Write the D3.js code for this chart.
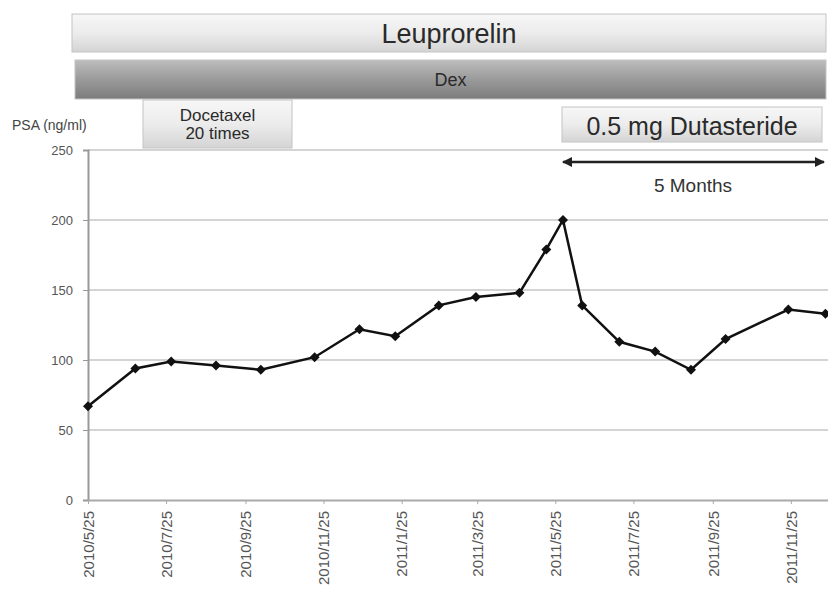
<!DOCTYPE html>
<html>
<head>
<meta charset="utf-8">
<script src="https://cdn.jsdelivr.net/npm/d3@7"></script>
<style>
  body { margin: 0; background: #fff; }
  svg { font-family: "Liberation Sans", Arial, sans-serif; }
</style>
</head>
<body>
<div id="container"></div>
<script>
/* DATA */
const dates = ["2010-05-25","2010-07-01","2010-07-29","2010-09-02","2010-10-07","2010-11-18",
  "2010-12-23","2011-01-20","2011-02-23","2011-03-24","2011-04-27","2011-05-18","2011-05-31",
  "2011-06-15","2011-07-14","2011-08-11","2011-09-08","2011-10-05","2011-11-23","2011-12-22"];
const psa = [67, 94, 99, 96, 93, 102, 122, 117, 139, 145, 148, 179, 200, 139, 113, 106, 93, 115, 136, 133];
const tickDates = ["2010-05-25","2010-07-25","2010-09-25","2010-11-25","2011-01-25","2011-03-25",
  "2011-05-25","2011-07-25","2011-09-25","2011-11-25"];
const yTicks = [0, 50, 100, 150, 200, 250];

const width = 828, height = 590;
const parse = d3.timeParse("%Y-%m-%d");
const fmt = d => `${d.getFullYear()}/${d.getMonth() + 1}/${d.getDate()}`;
const data = dates.map((d, i) => ({date: parse(d), value: psa[i]}));

const svg = d3.select("#container").append("svg")
  .attr("width", width).attr("height", height);

const defs = svg.append("defs");
function grad(id, stops) {
  const g = defs.append("linearGradient").attr("id", id)
    .attr("x1", 0).attr("y1", 0).attr("x2", 0).attr("y2", 1);
  stops.forEach(s => g.append("stop").attr("offset", s[0]).attr("stop-color", s[1]));
}
grad("light", [[0, "#f7f7f7"], [0.5, "#ececec"], [1, "#d4d4d4"]]);
grad("dark", [[0, "#bdbdbd"], [0.5, "#9a9a9a"], [1, "#7c7c7c"]]);

/* SCALES */
const x = d3.scaleTime()
  .domain([parse("2010-05-25"), parse("2011-12-24")])
  .range([88, 828]);
const y = d3.scaleLinear().domain([0, 250]).range([500, 150]);

/* TREATMENT BARS */
const boxes = [
  {x0: 72, x1: 826, y0: 14, y1: 52, fill: "url(#light)", lines: ["Leuprorelin"], size: 27, cy: 34},
  {x0: 75, x1: 826, y0: 60, y1: 99, fill: "url(#dark)", lines: ["Dex"], size: 18, cy: 80},
  {x0: 143, x1: 292, y0: 100, y1: 148, fill: "url(#light)", lines: ["Docetaxel", "20 times"], size: 17, cy: 124},
  {x0: 562, x1: 822, y0: 107, y1: 142, fill: "url(#light)", lines: ["0.5 mg Dutasteride"], size: 25, cy: 126}
];
boxes.forEach(b => {
  svg.append("rect")
    .attr("x", b.x0).attr("y", b.y0)
    .attr("width", b.x1 - b.x0).attr("height", b.y1 - b.y0)
    .attr("fill", b.fill).attr("stroke", "#c4c4c4");
  const n = b.lines.length;
  b.lines.forEach((t, i) => {
    svg.append("text")
      .attr("x", (b.x0 + b.x1) / 2)
      .attr("y", b.cy + (i - (n - 1) / 2) * (b.size * 1.05))
      .attr("dy", "0.35em")
      .attr("text-anchor", "middle")
      .attr("font-size", b.size)
      .attr("fill", "#2a2a2a")
      .text(t);
  });
});

svg.append("text")
  .attr("x", 12).attr("y", 130)
  .attr("font-size", 14).attr("fill", "#444")
  .text("PSA (ng/ml)");

/* GRID */
svg.append("g").selectAll("line")
  .data(yTicks.filter(v => v > 0))
  .join("line")
  .attr("x1", 88).attr("x2", 828)
  .attr("y1", d => y(d)).attr("y2", d => y(d))
  .attr("stroke", "#d4d4d4").attr("stroke-width", 2);

/* AXES */
const yAxis = svg.append("g")
  .attr("transform", "translate(88,0)")
  .call(d3.axisLeft(y).tickValues(yTicks).tickSize(5).tickPadding(10));
yAxis.select(".domain").attr("stroke", "#999").attr("stroke-width", 2);
yAxis.selectAll(".tick line").attr("stroke", "#999");
yAxis.selectAll("text").attr("font-size", 13).attr("fill", "#555")
  .attr("font-family", "Liberation Sans, Arial, sans-serif");

const xAxis = svg.append("g")
  .attr("transform", "translate(0,500)")
  .call(d3.axisBottom(x).tickValues(tickDates.map(parse)).tickFormat(fmt).tickSize(4).tickSizeOuter(0));
xAxis.select(".domain").attr("stroke", "#aaa").attr("stroke-width", 2);
xAxis.selectAll(".tick line").attr("stroke", "#aaa");
xAxis.selectAll("text")
  .attr("font-size", 15).attr("fill", "#555")
  .attr("font-family", "Liberation Sans, Arial, sans-serif")
  .attr("transform", "rotate(-90)")
  .attr("text-anchor", "end")
  .attr("x", -11).attr("y", 0).attr("dy", "0.35em");

/* LINE */
svg.append("path")
  .datum(data)
  .attr("fill", "none")
  .attr("stroke", "#111")
  .attr("stroke-width", 2.5)
  .attr("d", d3.line().x(d => x(d.date)).y(d => y(d.value)));

svg.append("g").selectAll("path")
  .data(data)
  .join("path")
  .attr("transform", d => `translate(${x(d.date)},${y(d.value)}) rotate(45)`)
  .attr("d", d3.symbol(d3.symbolSquare, 50))
  .attr("fill", "#111");

/* 5 MONTHS ARROW */
defs.append("marker").attr("id", "arr")
  .attr("viewBox", "0 0 10 10").attr("refX", 9).attr("refY", 5)
  .attr("markerWidth", 4).attr("markerHeight", 4).attr("orient", "auto-start-reverse")
  .append("path").attr("d", "M0,0L10,5L0,10Z").attr("fill", "#222");
svg.append("line")
  .attr("x1", x(parse("2011-05-31"))).attr("x2", 824)
  .attr("y1", 162).attr("y2", 162)
  .attr("stroke", "#222").attr("stroke-width", 2.5)
  .attr("marker-start", "url(#arr)").attr("marker-end", "url(#arr)");
svg.append("text")
  .attr("x", 693).attr("y", 192)
  .attr("text-anchor", "middle").attr("font-size", 19).attr("fill", "#333")
  .text("5 Months");
</script>
</body>
</html>
